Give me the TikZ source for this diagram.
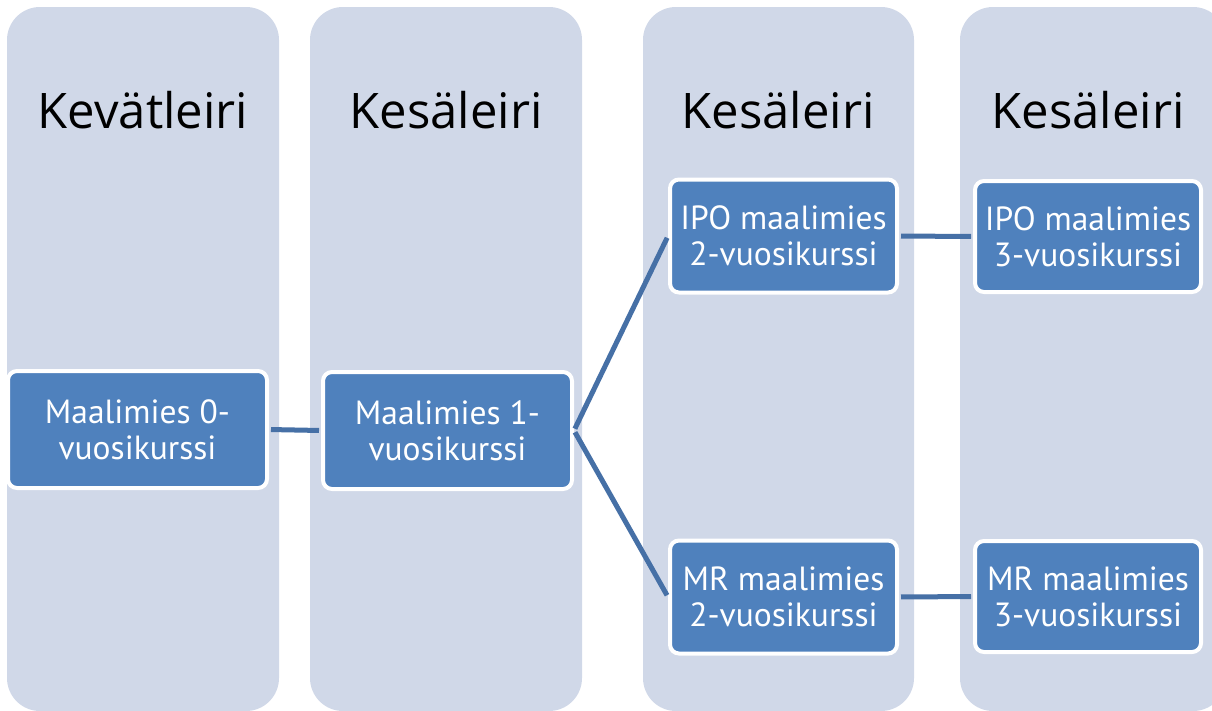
\documentclass[tikz,border=0pt]{standalone}
\usepackage{fontspec}
\setmainfont{PT Sans}
\newfontfamily\headfont{Open Sans}
\definecolor{colbg}{HTML}{D0D8E8}
\definecolor{boxbg}{HTML}{4F81BD}
\definecolor{linec}{HTML}{4670A6}
\begin{document}
\begin{tikzpicture}[x=1pt,y=-1pt,
  column/.style={fill=colbg, draw=none, rounded corners=33pt},
  heading/.style={font=\headfont\fontsize{49}{56}\selectfont, text=black, inner sep=0pt, anchor=base},
  stage/.style={fill=boxbg, draw=white, line width=4pt, rounded corners=9pt, text=white,
     font=\fontsize{33.5}{36}\selectfont, align=center, inner sep=0pt},
  link/.style={draw=linec, line width=5pt, shorten <=2pt, shorten >=2pt}]
\useasboundingbox (0,0) rectangle (1212,710);
\fill[white] (0,0) rectangle (1212,710);
\path[column] (7,7) rectangle (279,711);
\path[column] (310,7) rectangle (582,711);
\path[column] (643,7) rectangle (914,711);
\path[column] (960,7) rectangle (1226,711);
\node[heading] (h1) at (143,128) {Kevätleiri};
\node[heading] (h2) at (446,128) {Kesäleiri};
\node[heading] (h3) at (778,128) {Kesäleiri};
\node[heading] (h4) at (1088,128) {Kesäleiri};
\node[stage, minimum width=259pt, minimum height=117pt] (a) at (137.5,429.5) {Maalimies 0-\\vuosikurssi};
\node[stage, minimum width=249pt, minimum height=117pt] (b) at (447.5,430.5) {Maalimies 1-\\vuosikurssi};
\node[stage, minimum width=227pt, minimum height=113pt] (c) at (783.5,236) {IPO maalimies\\2-vuosikurssi};
\node[stage, minimum width=226pt, minimum height=111pt] (d) at (1088,236.5) {IPO maalimies\\3-vuosikurssi};
\node[stage, minimum width=227pt, minimum height=113pt] (e) at (783.5,597) {MR maalimies\\2-vuosikurssi};
\node[stage, minimum width=226pt, minimum height=111pt] (f) at (1088,596.5) {MR maalimies\\3-vuosikurssi};
\draw[link] (a.east) -- (b.west);
\draw[link] (b.east) -- (c.west);
\draw[link] (b.east) -- (e.west);
\draw[link] (c.east) -- (d.west);
\draw[link] (e.east) -- (f.west);
\end{tikzpicture}
\end{document}
